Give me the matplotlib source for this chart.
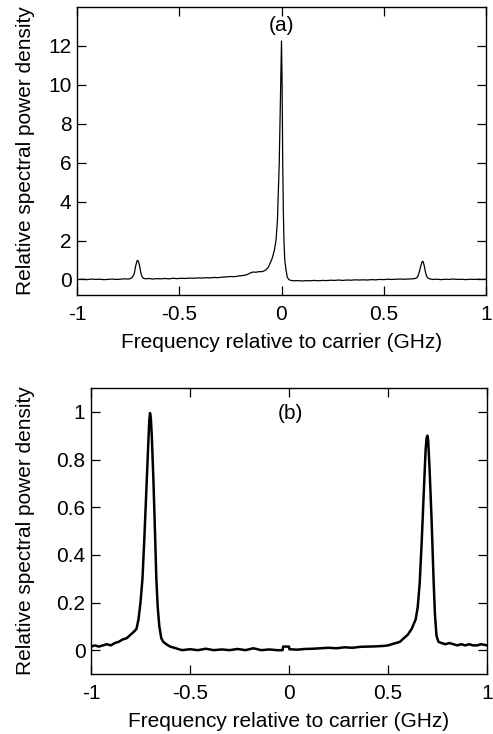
import matplotlib
matplotlib.use("Agg")
import matplotlib.pyplot as plt

plt.rcParams['font.family'] = ['Liberation Sans', 'DejaVu Sans']
plt.rcParams['axes.unicode_minus'] = False

# ---- Panel (a) data: frequency (GHz) and relative spectral power density ----
freq_a = [-0.985, -0.97, -0.95, -0.93, -0.91, -0.89, -0.87, -0.85, -0.83, -0.81,
          -0.79, -0.77, -0.75, -0.74, -0.73, -0.72, -0.713, -0.706, -0.700, -0.694,
          -0.688, -0.682, -0.675, -0.665, -0.65, -0.63, -0.61, -0.59, -0.57, -0.55,
          -0.53, -0.51, -0.49, -0.47, -0.45, -0.43, -0.41, -0.39, -0.37, -0.35,
          -0.33, -0.31, -0.29, -0.27, -0.25, -0.23, -0.21, -0.19, -0.17, -0.155,
          -0.14, -0.125, -0.11, -0.095, -0.085, -0.075, -0.065, -0.056, -0.045, -0.035,
          -0.027, -0.02, -0.011, -0.005, 0.0, 0.003, 0.006, 0.009, 0.012, 0.016,
          0.022, 0.028, 0.035, 0.045, 0.06, 0.08, 0.10, 0.12, 0.14, 0.16,
          0.18, 0.20, 0.22, 0.24, 0.26, 0.28, 0.30, 0.32, 0.34, 0.36,
          0.38, 0.40, 0.42, 0.44, 0.46, 0.48, 0.50, 0.52, 0.54, 0.56,
          0.58, 0.60, 0.62, 0.64, 0.655, 0.665, 0.673, 0.68, 0.687, 0.692,
          0.698, 0.704, 0.71, 0.718, 0.728, 0.74, 0.76, 0.78, 0.80, 0.82,
          0.84, 0.86, 0.88, 0.90, 0.92, 0.94, 0.96, 0.98, 1.00]
power_a = [0.00, 0.01, -0.01, 0.02, 0.00, 0.01, -0.01, 0.00, 0.02, 0.00,
           0.01, 0.03, 0.02, 0.04, 0.10, 0.30, 0.70, 0.97, 0.95, 0.70,
           0.35, 0.14, 0.06, 0.03, 0.05, 0.02, 0.04, 0.03, 0.05, 0.03,
           0.06, 0.04, 0.06, 0.05, 0.07, 0.06, 0.08, 0.07, 0.09, 0.08,
           0.10, 0.09, 0.12, 0.13, 0.15, 0.14, 0.18, 0.20, 0.24, 0.32,
           0.38, 0.37, 0.40, 0.40, 0.44, 0.50, 0.62, 0.82, 1.10, 1.50,
           2.00, 3.00, 6.00, 9.50, 12.25, 10.0, 6.00, 3.50, 2.00, 1.00,
           0.50, 0.13, 0.00, -0.05, -0.07, -0.06, -0.08, -0.06, -0.07, -0.05,
           -0.07, -0.05, -0.06, -0.04, -0.05, -0.03, -0.05, -0.03, -0.04, -0.02,
           -0.03, -0.02, -0.03, -0.01, -0.02, 0.00, -0.01, 0.01, 0.00, 0.01,
           0.02, 0.01, 0.02, 0.03, 0.05, 0.12, 0.35, 0.65, 0.90, 0.93,
           0.70, 0.38, 0.15, 0.06, 0.02, 0.00, 0.01, -0.01, 0.01, 0.00,
           0.02, 0.00, 0.01, -0.01, 0.01, 0.00, 0.01, 0.00, 0.01]

# ---- Panel (b) data ----
freq_b = [-1.00, -0.98, -0.96, -0.94, -0.92, -0.90, -0.88, -0.86, -0.84, -0.82,
          -0.80, -0.78, -0.77, -0.76, -0.75, -0.74, -0.73, -0.72, -0.71, -0.706,
          -0.702, -0.698, -0.693, -0.685, -0.677, -0.67, -0.663, -0.655, -0.645, -0.635,
          -0.62, -0.60, -0.58, -0.56, -0.54, -0.50, -0.46, -0.42, -0.38, -0.34,
          -0.30, -0.26, -0.22, -0.18, -0.14, -0.10, -0.06, -0.032, -0.03, -0.01,
          0.00, 0.002, 0.04, 0.08, 0.12, 0.16, 0.20, 0.24, 0.28, 0.32,
          0.36, 0.40, 0.44, 0.48, 0.50, 0.52, 0.54, 0.56, 0.58, 0.60,
          0.62, 0.63, 0.64, 0.65, 0.66, 0.67, 0.68, 0.69, 0.695, 0.699,
          0.703, 0.71, 0.72, 0.73, 0.737, 0.745, 0.755, 0.77, 0.79, 0.81,
          0.83, 0.85, 0.87, 0.89, 0.91, 0.93, 0.95, 0.97, 1.00]
power_b = [0.015, 0.020, 0.015, 0.020, 0.025, 0.020, 0.030, 0.035, 0.045, 0.050,
           0.065, 0.080, 0.090, 0.130, 0.200, 0.300, 0.480, 0.680, 0.880, 0.960,
           0.995, 0.975, 0.900, 0.720, 0.500, 0.300, 0.180, 0.100, 0.050, 0.035,
           0.025, 0.015, 0.010, 0.005, 0.000, 0.004, 0.000, 0.006, 0.000, 0.003,
           0.000, 0.005, 0.000, 0.008, 0.000, 0.003, 0.000, 0.000, 0.015, 0.015,
           0.015, 0.004, 0.002, 0.005, 0.006, 0.008, 0.010, 0.008, 0.012, 0.010,
           0.014, 0.015, 0.016, 0.018, 0.020, 0.025, 0.030, 0.035, 0.050, 0.065,
           0.090, 0.110, 0.130, 0.180, 0.280, 0.450, 0.650, 0.840, 0.890, 0.900,
           0.880, 0.760, 0.550, 0.300, 0.150, 0.060, 0.035, 0.030, 0.025, 0.030,
           0.025, 0.020, 0.025, 0.020, 0.025, 0.020, 0.020, 0.025, 0.020]

x_ticks = [-1, -0.5, 0, 0.5, 1]
x_ticklabels = ['-1', '-0.5', '0', '0.5', '1']
y_ticks_a = [0, 2, 4, 6, 8, 10, 12]
y_ticks_b = [0, 0.2, 0.4, 0.6, 0.8, 1]
y_ticklabels_b = ['0', '0.2', '0.4', '0.6', '0.8', '1']

xlabel = 'Frequency relative to carrier (GHz)'
ylabel = 'Relative spectral power density'

W, H = 493, 734
fig = plt.figure(figsize=(W / 100, H / 100), dpi=100)

def box(l, t, r, b):
    return [l / W, 1 - b / H, (r - l) / W, (b - t) / H]

ax_a = fig.add_axes(box(77, 7, 486, 295))
ax_b = fig.add_axes(box(91, 388, 487, 674))

FS = 15

def style(ax):
    for s in ax.spines.values():
        s.set_linewidth(1.0)
    ax.tick_params(direction='in', length=6.5, width=0.9, top=True, right=True,
                   labelsize=FS, colors='black')
    ax.tick_params(axis='x', pad=7.5)
    ax.tick_params(axis='y', pad=4)
    ax.set_xlim(-1, 1)
    ax.set_xticks(x_ticks)
    ax.set_xticklabels(x_ticklabels)
    ax.set_xlabel(xlabel, fontsize=FS, labelpad=6.5)
    ax.set_ylabel(ylabel, fontsize=FS)

ax_a.plot(freq_a, power_a, color='black', linewidth=0.9)
style(ax_a)
ax_a.set_ylim(-0.8, 14)
ax_a.set_yticks(y_ticks_a)
ax_a.yaxis.set_label_coords((35 - 77) / 409, 0.5)
ax_a.text(0.0, 13.05, '(a)', fontsize=FS, ha='center', va='center')

ax_b.plot(freq_b, power_b, color='black', linewidth=1.8)
style(ax_b)
ax_b.set_ylim(-0.1, 1.1)
ax_b.set_yticks(y_ticks_b)
ax_b.set_yticklabels(y_ticklabels_b)
ax_b.yaxis.set_label_coords((35 - 91) / 396, 0.5)
ax_b.text(0.005, 0.995, '(b)', fontsize=FS, ha='center', va='center')

fig.savefig('out.png', dpi=100)
